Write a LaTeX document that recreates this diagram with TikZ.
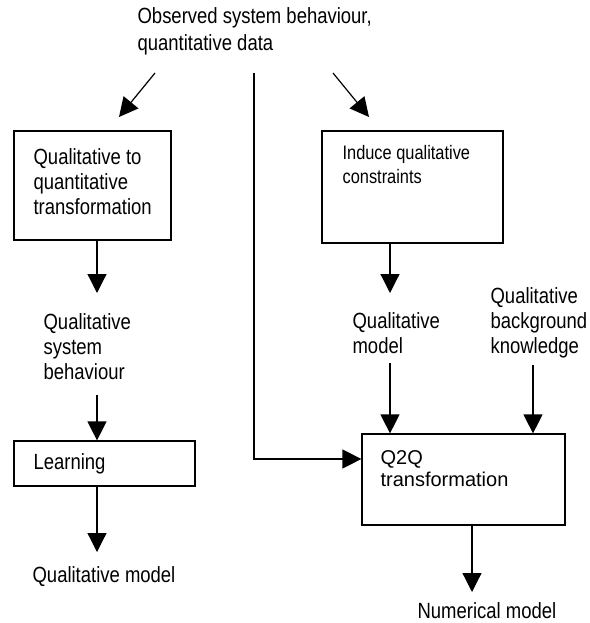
\documentclass[tikz,border=0pt]{standalone}
\usepackage{fontspec}
\setmainfont{Liberation Sans}[FakeStretch=0.84]
\newfontfamily\widesans{Liberation Sans}
\usetikzlibrary{arrows.meta}
\begin{document}
\begin{tikzpicture}[x=1pt,y=-1pt,
  line width=1.2pt,
  flow/.style={-{Triangle[length=19pt,width=19pt]}},
  box/.style={draw,line width=1.2pt,inner sep=0pt},
  lbl/.style={anchor=west,align=left,inner sep=0pt,font=\fontsize{22}{25}\selectfont},
]
\useasboundingbox (0,0) rectangle (589,623);

% boxes
\node[box,minimum width=157pt,minimum height=109pt] (qtq) at (92.5,185.5) {};
\node[box,minimum width=181pt,minimum height=112pt] (induce) at (412.5,187) {};
\node[box,minimum width=181pt,minimum height=45pt] (learn) at (104.5,463.5) {};
\node[box,minimum width=203pt,minimum height=91pt] (q2q) at (463.5,479.5) {};

% labels
\node[lbl,font=\fontsize{22}{27}\selectfont] (obs) at (137,31.5) {Observed system behaviour,\\quantitative data};
\node[lbl] (qtqtxt) at (33,182) {Qualitative to\\quantitative\\transformation};
\node[lbl,font=\fontsize{19.5}{24}\selectfont] (indtxt) at (342,165) {Induce qualitative\\constraints};
\node[lbl] (qsb) at (43,347) {Qualitative\\system\\behaviour};
\node[lbl] (learntxt) at (33,464) {Learning};
\node[lbl] (qm1) at (32,577) {Qualitative model};
\node[lbl] (qm2) at (352,333.5) {Qualitative\\model};
\node[lbl] (qbk) at (490,323) {Qualitative\\background\\knowledge};
\node[lbl,font=\widesans\fontsize{20}{22}\selectfont] (q2qtxt) at (380,469) {Q2Q\\transformation};
\node[lbl] (num) at (417,611) {Numerical model};

% free connector ends
\coordinate (a1s) at (155,73);  \coordinate (a1e) at (119,117);
\coordinate (a2s) at (333,73);  \coordinate (a2e) at (369,117);
\coordinate (a3s) at (254,73);  \coordinate (join) at (362,459);
\coordinate (a4e) at (97,293);
\coordinate (a5s) at (97,395);
\coordinate (a6e) at (97,552);
\coordinate (a7e) at (390,293);
\coordinate (a8s) at (390,363);
\coordinate (a9s) at (533,365);
\coordinate (a10e) at (472,592);

% connectors
\draw[flow] (a1s) -- (a1e);
\draw[flow] (a2s) -- (a2e);
\draw[flow] (a3s) |- (q2q.west |- join);
\draw[flow] (qtq.south -| a4e) -- (a4e);
\draw[flow] (a5s) -- (learn.north -| a5s);
\draw[flow] (learn.south -| a6e) -- (a6e);
\draw[flow] (induce.south -| a7e) -- (a7e);
\draw[flow] (a8s) -- (q2q.north -| a8s);
\draw[flow] (a9s) -- (q2q.north -| a9s);
\draw[flow] (q2q.south -| a10e) -- (a10e);
\end{tikzpicture}
\end{document}
